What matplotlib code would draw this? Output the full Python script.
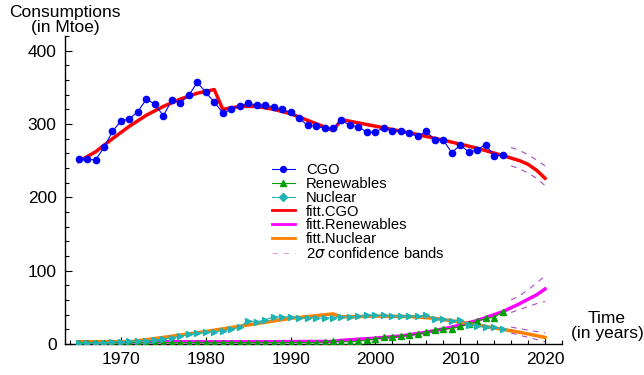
import matplotlib
matplotlib.use("Agg")
import matplotlib.pyplot as plt
from matplotlib.lines import Line2D
from matplotlib.ticker import MultipleLocator

plt.rcParams['font.family'] = ['Liberation Sans', 'DejaVu Sans']

# Observed consumptions (Mtoe)
years = list(range(1965, 2016))
cgo = [252, 252, 251, 268, 290, 304, 307, 317, 334, 327,
       311, 333, 329, 339, 357, 343, 330, 315, 320, 325,
       328, 326, 326, 323, 320, 316, 308, 298, 297, 294,
       294, 305, 298, 296, 289, 289, 295, 291, 291, 288,
       283, 290, 278, 278, 261, 271, 262, 265, 272, 256,
       258]
renewables = [2, 2, 2, 2, 2, 2, 2, 2, 2, 2,
              2, 2, 2, 2, 2, 2, 2, 2, 2, 2,
              2, 2, 2, 2, 2, 2, 2, 2, 2, 3,
              4, 3, 3, 4, 5, 7, 9, 10, 11, 12,
              14, 16, 19, 21, 21, 24, 27, 31, 35, 36,
              44]
nuclear = [1, 1, 2, 2, 3, 3, 4, 4, 4.5, 5.5,
           7, 8.6, 11, 13, 14.6, 16, 17, 18, 20, 23,
           32, 30, 33, 37, 37, 37, 35, 36, 35.5, 35,
           36, 37, 37, 38, 39, 39, 39, 38, 38, 38,
           38, 39, 34, 34, 31, 33, 26, 24.5, 23, 23,
           20]

# Fitted trends
fit_cgo_years = [1965, 1967, 1969, 1971, 1973, 1975, 1977, 1979, 1981,
                 1982, 1984, 1986, 1988, 1990, 1992, 1994, 1995,
                 1996, 2000, 2004, 2008, 2012, 2015, 2017, 2018, 2019, 2020]
fit_cgo = [249, 262, 280, 297, 312, 324, 334, 342, 347,
           320, 324, 324, 320, 314, 305, 296, 291,
           306, 297, 288, 278, 267, 257, 250, 245, 237, 226]

fit_ren_years = [1965, 1975, 1985, 1995, 1996, 2000, 2003, 2006, 2009,
                 2012, 2015, 2017, 2019, 2020]
fit_ren = [3, 3, 3, 3.5, 5, 8, 11, 16, 23, 32, 44, 55, 67, 75]

fit_nuc_years = [1965, 1971, 1975, 1980, 1985, 1990, 1995,
                 1996, 2000, 2004, 2007, 2010, 2013, 2015, 2017, 2020]
fit_nuc = [3, 3, 9, 17, 26, 35, 41,
           37, 38, 37.5, 35, 30, 24, 20, 16, 9]

# 2-sigma confidence bands on the forecast
band_years = [2016, 2017, 2018, 2019, 2020]
cgo_hi = [268, 264, 258, 251, 243]
cgo_lo = [243, 239, 233, 226, 216]
ren_hi = [60, 66, 74, 83, 93]
ren_lo = [43, 47, 51, 55, 58]
nuc_hi = [23, 21, 19, 17, 15]
nuc_lo = [15, 12, 9, 6, 3]

BLUE = '#0000FF'
RED = '#FF0000'
GREEN = '#00A000'
TEAL = '#1FB3B3'
MAGENTA = '#FF00FF'
ORANGE = '#FF8000'
BAND = '#A64DC0'

fig = plt.figure(figsize=(6.44, 3.75), dpi=100)
ax = fig.add_axes([65 / 644, 1 - 344 / 375, (562 - 65) / 644, (344 - 36) / 375])

# fitted curves
ax.plot(fit_cgo_years, fit_cgo, color=RED, lw=2.5, zorder=2)
ax.plot(fit_ren_years, fit_ren, color=MAGENTA, lw=2.5, zorder=2)
ax.plot(fit_nuc_years, fit_nuc, color=ORANGE, lw=2.5, zorder=2)

# confidence bands
band_kw = dict(color=BAND, lw=0.8, dashes=(5, 5), zorder=1)
for hi, lo in [(cgo_hi, cgo_lo), (ren_hi, ren_lo), (nuc_hi, nuc_lo)]:
    ax.plot(band_years, hi, **band_kw)
    ax.plot(band_years, lo, **band_kw)

# observations
ax.plot(years, cgo, color=BLUE, lw=0.8, marker='o', ms=4.5, mec=BLUE, mfc=BLUE, zorder=4)
ax.plot(years, renewables, color=GREEN, lw=0.8, marker='^', ms=4.4, mec=GREEN, mfc=GREEN, zorder=3)
ax.plot(years, nuclear, color=TEAL, lw=0.8, marker='>', ms=3.8, mec=TEAL, mfc=TEAL, zorder=3)

ax.set_xlim(1963.4, 2022)
ax.set_ylim(0, 420)
for side in ('top', 'right'):
    ax.spines[side].set_visible(False)
for side in ('left', 'bottom'):
    ax.spines[side].set_linewidth(1.0)

ax.xaxis.set_major_locator(MultipleLocator(10))
ax.xaxis.set_minor_locator(MultipleLocator(2))
ax.yaxis.set_major_locator(MultipleLocator(100))
ax.yaxis.set_minor_locator(MultipleLocator(20))
ax.tick_params(which='both', direction='in', labelsize=12.5, width=0.8)
ax.tick_params(which='major', length=5, pad=6)
ax.tick_params(which='minor', length=3)

fig.text(65 / 644, 1 - 20 / 375, 'Consumptions\n(in Mtoe)', ha='center', va='center',
         fontsize=12.5, linespacing=1.0)
fig.text(607 / 644, 1 - 326 / 375, 'Time\n(in years)', ha='center', va='center',
         fontsize=12.5, linespacing=1.0)

handles = [
    Line2D([], [], color=BLUE, lw=0.8, marker='o', ms=4.2),
    Line2D([], [], color=GREEN, lw=0.8, marker='^', ms=4.6),
    Line2D([], [], color=TEAL, lw=0.8, marker='D', ms=3.8),
    Line2D([], [], color=RED, lw=2),
    Line2D([], [], color=MAGENTA, lw=2),
    Line2D([], [], color=ORANGE, lw=2),
    Line2D([], [], color='#D9A6E6', lw=0.8, dashes=(5, 5)),
]
labels = ['CGO', 'Renewables', 'Nuclear', 'fitt.CGO', 'fitt.Renewables',
          'fitt.Nuclear', r'2$\sigma$ confidence bands']
fig.legend(handles, labels, loc='upper left', bbox_to_anchor=(272 / 644, 1 - 163 / 375),
           bbox_transform=fig.transFigure, frameon=False, fontsize=10.6,
           handlelength=1.55, handletextpad=0.75, labelspacing=-0.01,
           borderpad=0, borderaxespad=0)

fig.savefig('out.png', dpi=100)
